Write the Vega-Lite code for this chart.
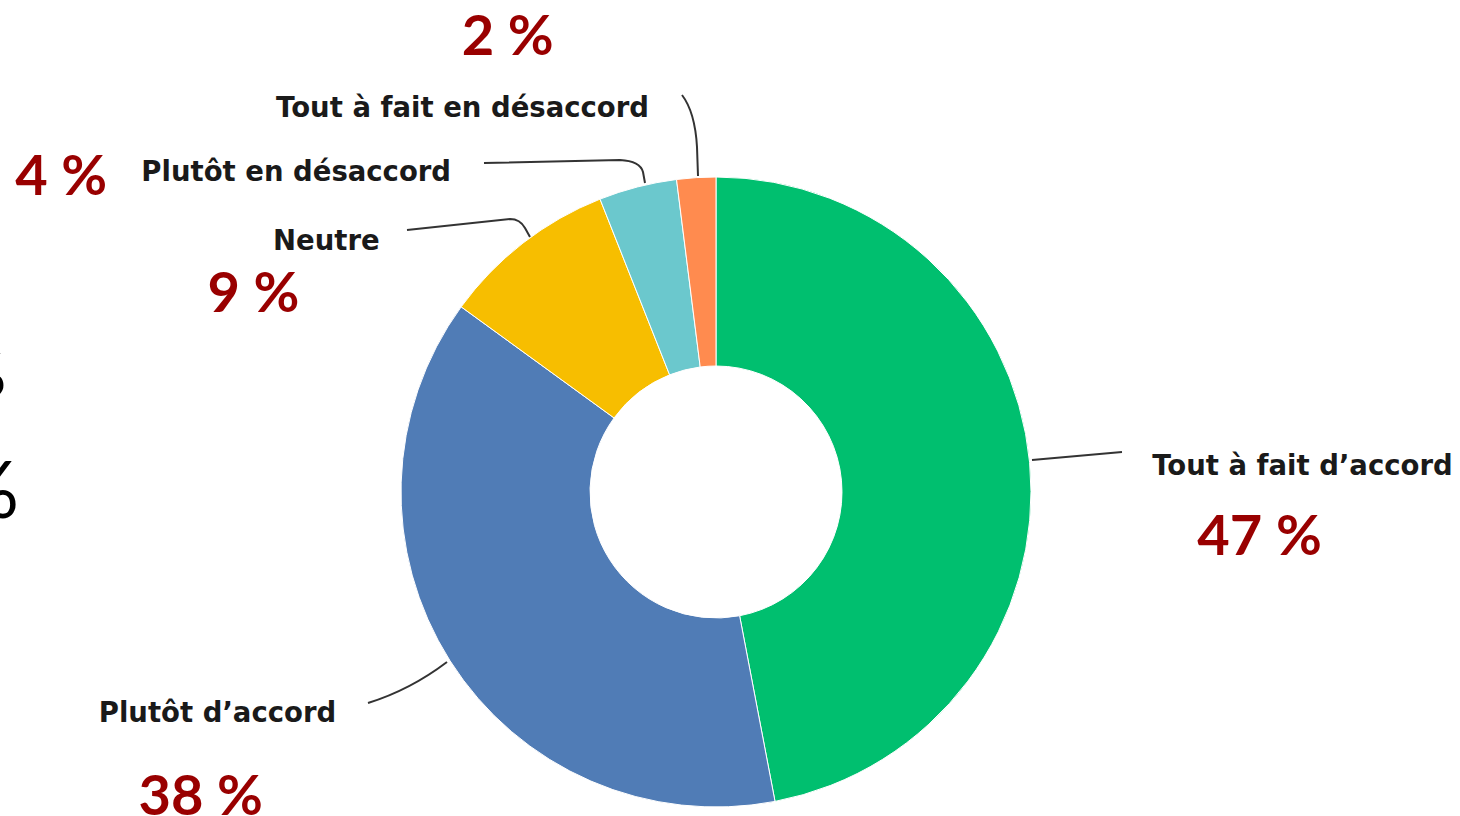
{
  "$schema": "https://vega.github.io/schema/vega-lite/v6.json",
  "autosize": "none",
  "width": 1432,
  "height": 648,
  "padding": {"left": 0, "top": 168, "right": 28, "bottom": 0},
  "background": "white",
  "config": {"view": {"stroke": null}},
  "data": {"values": [
    {"idx": 1, "category": "Tout à fait d’accord", "value": 47, "label": "47 %"},
    {"idx": 2, "category": "Plutôt d’accord", "value": 38, "label": "38 %"},
    {"idx": 3, "category": "Neutre", "value": 9, "label": "9 %"},
    {"idx": 4, "category": "Plutôt en désaccord", "value": 4, "label": "4 %"},
    {"idx": 5, "category": "Tout à fait en désaccord", "value": 2, "label": "2 %"}
  ]},
  "layer": [
    {
      "mark": {"type": "arc", "innerRadius": 126, "outerRadius": 315, "stroke": "white", "strokeWidth": 1},
      "encoding": {
        "theta": {"field": "value", "type": "quantitative", "stack": true},
        "order": {"field": "idx", "type": "quantitative"},
        "color": {"field": "category", "type": "nominal", "legend": null,
          "scale": {"domain": ["Tout à fait d’accord", "Plutôt d’accord", "Neutre", "Plutôt en désaccord", "Tout à fait en désaccord"],
                    "range": ["#00BF6F", "#507CB6", "#F7BE00", "#6BC8CD", "#FF8B4F"]}}
      }
    },
    {
      "transform": [{"filter": "datum.idx === 1"}],
      "mark": {"type": "point", "shape": "M3.16,-0.32 L4.06,-0.40 M-3.48,2.11 Q-3.06,1.98 -2.69,1.70 M-3.09,-2.62 L-2.06,-2.73 Q-1.96,-2.73 -1.91,-2.64 L-1.86,-2.55 M-2.32,-3.29 L-0.96,-3.32 Q-0.76,-3.31 -0.73,-3.20 L-0.71,-3.09 M-0.18,-3.16 L-0.19,-3.45 Q-0.21,-3.80 -0.34,-3.97",
        "size": 40000, "filled": false, "color": "#333333", "strokeWidth": 2, "opacity": 1},
      "encoding": {}
    },
    {
      "mark": {"type": "text", "radius": 586, "dx": 3, "dy": 38, "align": "center", "baseline": "alphabetic", "font": "DejaVu Sans", "fontWeight": "bold", "fontSize": 27.5, "color": "#1a1a1a"},
      "encoding": {
        "theta": {"field": "value", "type": "quantitative", "stack": true},
        "order": {"field": "idx", "type": "quantitative"},
        "detail": {"field": "category", "type": "nominal"},
        "text": {"condition": {"test": "datum.idx === 1", "field": "category"}, "value": ""}
      }
    },
    {
      "mark": {"type": "text", "radius": 548, "dx": -2, "dy": 115, "align": "center", "baseline": "alphabetic", "font": "Lato", "fontWeight": "bold", "fontSize": 56, "color": "#990000"},
      "encoding": {
        "theta": {"field": "value", "type": "quantitative", "stack": true},
        "order": {"field": "idx", "type": "quantitative"},
        "detail": {"field": "category", "type": "nominal"},
        "text": {"condition": {"test": "datum.idx === 1", "field": "label"}, "value": ""}
      }
    },
    {
      "mark": {"type": "text", "radius": 549, "dx": -35, "dy": -64, "align": "center", "baseline": "alphabetic", "font": "DejaVu Sans", "fontWeight": "bold", "fontSize": 27.5, "color": "#1a1a1a"},
      "encoding": {
        "theta": {"field": "value", "type": "quantitative", "stack": true},
        "order": {"field": "idx", "type": "quantitative"},
        "detail": {"field": "category", "type": "nominal"},
        "text": {"condition": {"test": "datum.idx === 2", "field": "category"}, "value": ""}
      }
    },
    {
      "mark": {"type": "text", "radius": 608, "dx": -2, "dy": -3, "align": "center", "baseline": "alphabetic", "font": "Lato", "fontWeight": "bold", "fontSize": 56, "color": "#990000"},
      "encoding": {
        "theta": {"field": "value", "type": "quantitative", "stack": true},
        "order": {"field": "idx", "type": "quantitative"},
        "detail": {"field": "category", "type": "nominal"},
        "text": {"condition": {"test": "datum.idx === 2", "field": "label"}, "value": ""}
      }
    },
    {
      "mark": {"type": "text", "radius": 458, "dx": -109, "dy": 120, "align": "center", "baseline": "alphabetic", "font": "DejaVu Sans", "fontWeight": "bold", "fontSize": 27.5, "color": "#1a1a1a"},
      "encoding": {
        "theta": {"field": "value", "type": "quantitative", "stack": true},
        "order": {"field": "idx", "type": "quantitative"},
        "detail": {"field": "category", "type": "nominal"},
        "text": {"condition": {"test": "datum.idx === 3", "field": "category"}, "value": ""}
      }
    },
    {
      "mark": {"type": "text", "radius": 497, "dx": -158, "dy": 213, "align": "center", "baseline": "alphabetic", "font": "Lato", "fontWeight": "bold", "fontSize": 56, "color": "#990000"},
      "encoding": {
        "theta": {"field": "value", "type": "quantitative", "stack": true},
        "order": {"field": "idx", "type": "quantitative"},
        "detail": {"field": "category", "type": "nominal"},
        "text": {"condition": {"test": "datum.idx === 3", "field": "label"}, "value": ""}
      }
    },
    {
      "mark": {"type": "text", "radius": 522, "dx": -290, "dy": 195, "align": "center", "baseline": "alphabetic", "font": "DejaVu Sans", "fontWeight": "bold", "fontSize": 27.5, "color": "#1a1a1a"},
      "encoding": {
        "theta": {"field": "value", "type": "quantitative", "stack": true},
        "order": {"field": "idx", "type": "quantitative"},
        "detail": {"field": "category", "type": "nominal"},
        "text": {"condition": {"test": "datum.idx === 4", "field": "category"}, "value": ""}
      }
    },
    {
      "mark": {"type": "text", "radius": 719, "dx": -476, "dy": 399, "align": "center", "baseline": "alphabetic", "font": "Lato", "fontWeight": "bold", "fontSize": 56, "color": "#990000"},
      "encoding": {
        "theta": {"field": "value", "type": "quantitative", "stack": true},
        "order": {"field": "idx", "type": "quantitative"},
        "detail": {"field": "category", "type": "nominal"},
        "text": {"condition": {"test": "datum.idx === 4", "field": "label"}, "value": ""}
      }
    },
    {
      "mark": {"type": "text", "radius": 453, "dx": -225, "dy": 77, "align": "center", "baseline": "alphabetic", "font": "DejaVu Sans", "fontWeight": "bold", "fontSize": 27.5, "color": "#1a1a1a"},
      "encoding": {
        "theta": {"field": "value", "type": "quantitative", "stack": true},
        "order": {"field": "idx", "type": "quantitative"},
        "detail": {"field": "category", "type": "nominal"},
        "text": {"condition": {"test": "datum.idx === 5", "field": "category"}, "value": ""}
      }
    },
    {
      "mark": {"type": "text", "radius": 484, "dx": -178, "dy": 46, "align": "center", "baseline": "alphabetic", "font": "Lato", "fontWeight": "bold", "fontSize": 56, "color": "#990000"},
      "encoding": {
        "theta": {"field": "value", "type": "quantitative", "stack": true},
        "order": {"field": "idx", "type": "quantitative"},
        "detail": {"field": "category", "type": "nominal"},
        "text": {"condition": {"test": "datum.idx === 5", "field": "label"}, "value": ""}
      }
    },
    {
      "transform": [{"filter": "datum.idx === 1"}],
      "mark": {"type": "text", "dx": -697, "dy": 26, "align": "right", "baseline": "alphabetic", "font": "Lato", "fontSize": 80, "color": "#000000"},
      "encoding": {"text": {"value": "%"}}
    },
    {
      "transform": [{"filter": "datum.idx === 1"}],
      "mark": {"type": "text", "dx": -710, "dy": -96, "align": "right", "baseline": "alphabetic", "font": "Lato", "fontSize": 60, "color": "#000000"},
      "encoding": {"text": {"value": "%"}}
    }
  ]
}
